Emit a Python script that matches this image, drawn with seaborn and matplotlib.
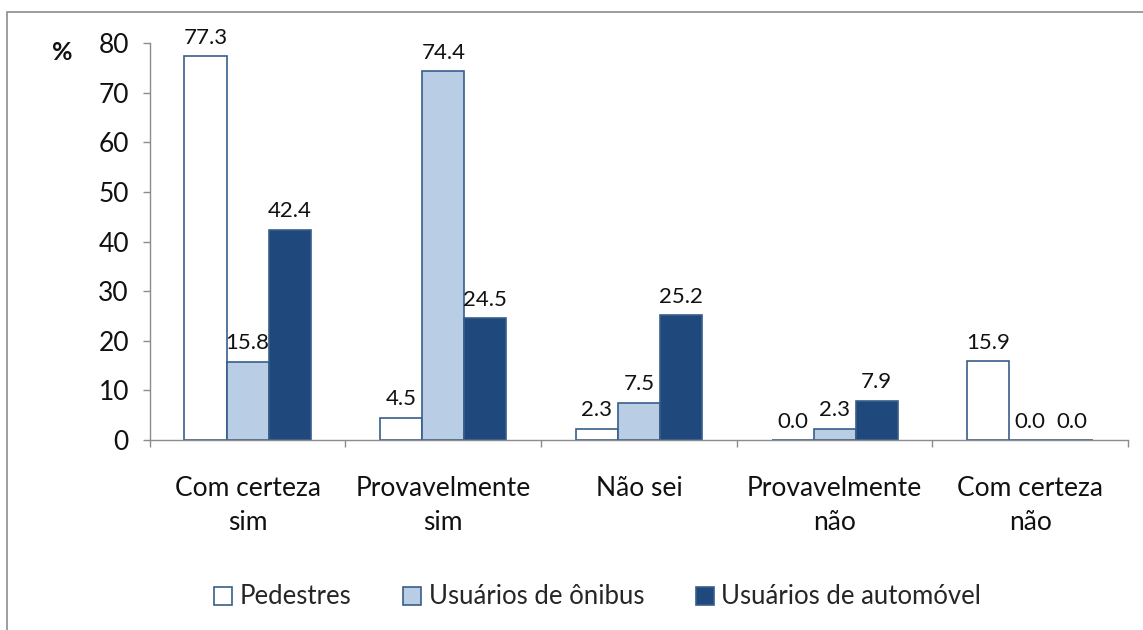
import pandas as pd
import matplotlib.pyplot as plt
import seaborn as sns
from matplotlib.patches import Patch, Rectangle

# data
categories = ["Com certeza\nsim", "Provavelmente\nsim", "Não sei",
              "Provavelmente\nnão", "Com certeza\nnão"]
groups = ["Pedestres", "Usuários de ônibus", "Usuários de automóvel"]
pedestres = [77.3, 4.5, 2.3, 0.0, 15.9]
onibus = [15.8, 74.4, 7.5, 2.3, 0.0]
automovel = [42.4, 24.5, 25.2, 7.9, 0.0]
y_ticks = [0, 10, 20, 30, 40, 50, 60, 70, 80]

colors = ["#FFFFFF", "#B9CDE5", "#1F497D"]
edge = "#385D8A"


def build_frame():
    rows = []
    for grp, vals in zip(groups, [pedestres, onibus, automovel]):
        for cat, v in zip(categories, vals):
            rows.append({"categoria": cat, "grupo": grp, "valor": v})
    return pd.DataFrame(rows)


def main():
    df = build_frame()
    sns.set_theme(style="white")
    plt.rcParams["font.family"] = ["Lato", "DejaVu Sans"]

    fig = plt.figure(figsize=(11.43, 6.30), dpi=100)
    ax = fig.add_axes([0.131, 0.3016, 0.856, 0.630])

    sns.barplot(data=df, x="categoria", y="valor", hue="grupo",
                palette=colors, saturation=1, edgecolor=edge, linewidth=1.2,
                width=0.645, errorbar=None, legend=False, ax=ax)

    for cont in ax.containers:
        ax.bar_label(cont, fmt="%.1f", padding=6, fontsize=16, color="#111111")

    ax.set_ylim(0, 80)
    ax.set_xlim(-0.5, len(categories) - 0.5)
    ax.set_yticks(y_ticks)
    ax.set_xlabel("")
    ax.set_ylabel("")
    ax.tick_params(axis="y", labelsize=19, length=5, width=1, color="#8C8C8C",
                   direction="out", left=True, pad=10, labelcolor="#111111")
    ax.set_xticks(range(len(categories)))
    ax.set_xticklabels(categories, fontsize=19, color="#111111", linespacing=1.45)
    ax.tick_params(axis="x", which="major", length=0, pad=26)
    ax.set_xticks([i - 0.5 for i in range(len(categories) + 1)], minor=True)
    ax.tick_params(axis="x", which="minor", length=5, width=1, color="#8C8C8C",
                   direction="out", bottom=True)

    for side in ["top", "right"]:
        ax.spines[side].set_visible(False)
    for side in ["left", "bottom"]:
        ax.spines[side].set_color("#8C8C8C")
        ax.spines[side].set_linewidth(1)

    fig.text(62 / 1143, 1 - 52 / 630, "%", fontsize=18, fontweight="bold",
             ha="center", va="center", color="#111111")

    handles = [Patch(facecolor=c, edgecolor=edge, linewidth=1.2) for c in colors]
    fig.legend(handles, groups, loc="center", bbox_to_anchor=(0.523, 1 - 597 / 630),
               ncol=3, frameon=False, fontsize=18.5, handlelength=0.7,
               handleheight=0.7, handletextpad=0.3, columnspacing=2.0)

    fig.patches.append(Rectangle((7 / 1143, -0.05), 1.2, 0.05 + 1 - 12 / 630,
                                 transform=fig.transFigure, fill=False,
                                 edgecolor="#8C8C8C", linewidth=1.2))

    fig.savefig("out.png", dpi=100)


if __name__ == "__main__":
    main()
